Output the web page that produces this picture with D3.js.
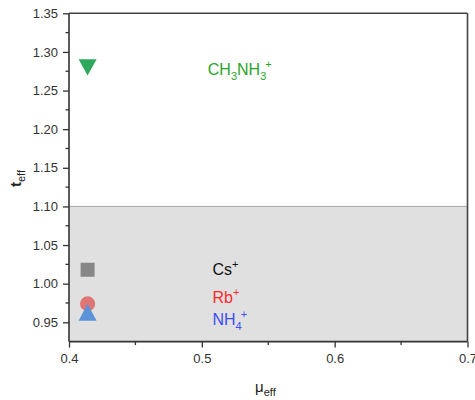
<!DOCTYPE html>
<html><head><meta charset="utf-8">
<script src="https://cdn.jsdelivr.net/npm/d3@7"></script>
<style>body{margin:0;background:#fff}svg{display:block}text{font-family:"Liberation Sans",Arial,sans-serif}</style>
</head><body>
<svg id="c" width="475" height="400"></svg>
<script>
const ions = ["Cs+", "Rb+", "NH4+", "CH3NH3+"];
const muEff = [0.414, 0.414, 0.414, 0.414];
const tEff = [1.018, 0.974, 0.963, 1.280];
const xTicks = [0.4, 0.5, 0.6, 0.7];
const yTicks = [0.95, 1.00, 1.05, 1.10, 1.15, 1.20, 1.25, 1.30, 1.35];
const bandRange = [0.925, 1.10];
const labelMu = [0.508, 0.508, 0.508, 0.5045];
const labelT = [1.011, 0.975, 0.946, 1.270];

const svg = d3.select("#c");
const L = 69, R = 467.5, T = 13.3, B = 341.6;
const x = d3.scaleLinear().domain([0.4, 0.7]).range([L, R]);
const y = d3.scaleLinear().domain([0.925, 1.35]).range([B, T]);

// band
svg.append("rect").attr("x", x(0.4)).attr("y", y(bandRange[1]))
  .attr("width", x(0.7) - x(0.4)).attr("height", y(bandRange[0]) - y(bandRange[1]))
  .attr("fill", "#e0e0e0");
svg.append("line").attr("x1", x(0.4)).attr("x2", x(0.7)).attr("y1", y(bandRange[1])).attr("y2", y(bandRange[1]))
  .attr("stroke", "#a8a8a8").attr("stroke-width", 1);

// frame top/right
svg.append("line").attr("x1", L).attr("x2", R).attr("y1", T).attr("y2", T).attr("stroke", "#444").attr("stroke-width", 1.6);
svg.append("line").attr("x1", R).attr("x2", R).attr("y1", T).attr("y2", B).attr("stroke", "#444").attr("stroke-width", 1.6);

// axes
const minorX = d3.range(0.45, 0.7, 0.1);
const minorY = d3.range(0.975, 1.35, 0.05);
const xAxis = svg.append("g").attr("transform", `translate(0,${B})`)
  .call(d3.axisBottom(x).tickValues(xTicks).tickFormat(d3.format(".1f")).tickSize(6).tickPadding(6));
const yAxis = svg.append("g").attr("transform", `translate(${L},0)`)
  .call(d3.axisLeft(y).tickValues(yTicks).tickFormat(d3.format(".2f")).tickSize(6).tickPadding(5));
[xAxis, yAxis].forEach(g => {
  g.select(".domain").attr("stroke", "#333").attr("stroke-width", 1.6);
  g.selectAll(".tick line").attr("stroke", "#333").attr("stroke-width", 1.3);
  g.selectAll(".tick text").attr("font-size", 13).attr("fill", "#333").attr("font-family", '"Liberation Sans",Arial,sans-serif');
});
xAxis.select(".domain").attr("d", `M${L},0H${R}`);
yAxis.select(".domain").attr("d", `M0,${B}V${T}`);
svg.append("g").selectAll("line").data(minorX).join("line")
  .attr("x1", d => x(d)).attr("x2", d => x(d)).attr("y1", B).attr("y2", B + 3.5).attr("stroke", "#333").attr("stroke-width", 1.3);
svg.append("g").selectAll("line").data(minorY).join("line")
  .attr("x1", L - 3.5).attr("x2", L).attr("y1", d => y(d)).attr("y2", d => y(d)).attr("stroke", "#333").attr("stroke-width", 1.3);

// markers
const triUp = { draw(ctx, size) { const w = Math.sqrt(size) * 1.5, h = w * 0.95; ctx.moveTo(0, -h / 2); ctx.lineTo(w / 2, h / 2); ctx.lineTo(-w / 2, h / 2); ctx.closePath(); } };
const triDown = { draw(ctx, size) { const w = Math.sqrt(size) * 1.5, h = w * 0.9; ctx.moveTo(0, h / 2); ctx.lineTo(w / 2, -h / 2); ctx.lineTo(-w / 2, -h / 2); ctx.closePath(); } };
const markerTypes = [d3.symbolSquare, d3.symbolCircle, triUp, triDown];
const markerSizes = [196, 180, 144, 144];
const markerColors = ["#878787", "#e07575", "#5d93d8", "#2ea85c"];
const order = [0, 1, 2, 3];
svg.append("g").selectAll("path").data(order).join("path")
  .attr("transform", i => `translate(${x(muEff[i])},${y(tEff[i])})`)
  .attr("d", i => d3.symbol().type(markerTypes[i]).size(markerSizes[i])())
  .attr("fill", i => markerColors[i]);

// labels
const labelColors = ["#111", "#ff2a2a", "#3a4dff", "#2aa52a"];
const labelParts = [
  [["Cs", 0], ["+", -1]],
  [["Rb", 0], ["+", -1]],
  [["NH", 0], ["4", 1], ["+", -1]],
  [["CH", 0], ["3", 1], ["NH", 0], ["3", 1], ["+", -1]]
];
labelParts.forEach((parts, i) => {
  const t = svg.append("text").attr("x", x(labelMu[i])).attr("y", y(labelT[i]))
    .attr("fill", labelColors[i]).attr("font-size", 16);
  let prev = 0;
  parts.forEach(([s, k], j) => {
    const ts = t.append("tspan").text(s);
    const shift = k === 1 ? 5 : (k === -1 ? -7 : 0);
    if (k !== 0) ts.attr("font-size", 11);
    ts.attr("dy", shift - prev);
    if (k === -1 && j > 0 && parts[j - 1][1] === 1) ts.attr("dx", -1);
    prev = shift;
  });
});

// axis titles
const xt = svg.append("text").attr("x", 255).attr("y", 392).attr("font-size", 15).attr("fill", "#222");
xt.append("tspan").text("μ");
xt.append("tspan").text("eff").attr("font-size", 11).attr("dy", 4);
const yt = svg.append("text").attr("transform", "translate(21,187) rotate(-90)").attr("font-size", 15).attr("fill", "#222").attr("font-weight", "bold");
yt.append("tspan").text("t");
yt.append("tspan").text("eff").attr("font-size", 11).attr("font-weight", "normal").attr("dy", 4);
</script>
</body></html>
